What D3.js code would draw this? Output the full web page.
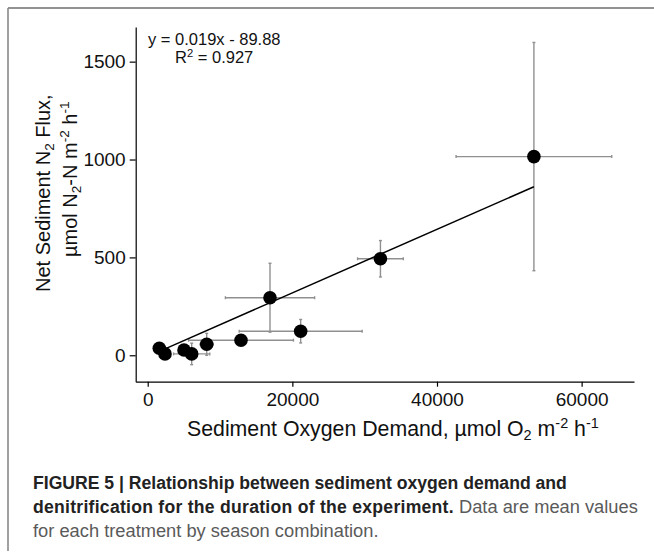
<!DOCTYPE html>
<html><head><meta charset="utf-8">
<script src="https://cdn.jsdelivr.net/npm/d3@7"></script>
<style>
html,body{margin:0;padding:0;background:#fff;}
svg{display:block;font-family:"Liberation Sans",Arial,sans-serif;}
</style></head>
<body>
<svg id="chart" width="654" height="554"></svg>
<script>
// ---- data ----
const sod      = [1604, 2392, 5020, 6080, 8157, 12900, 16910, 21150, 32180, 53400];
const n2Flux   = [36, 7, 27, 7, 56, 77, 294, 123, 493, 1015];
const sodErr   = [400, 400, 700, 2500, 900, 7250, 6170, 8500, 3160, 10760];
const fluxErr  = [15, 15, 20, 55, 56, 12, 176, 60, 93, 583];
const fitX     = [2400, 53400];
const fitY     = [33, 861];
const xTicks   = [0, 20000, 40000, 60000];
const yTicks   = [0, 500, 1000, 1500];
const eqLine1  = "y = 0.019x - 89.88";
const eqR2     = "0.927";

const svg = d3.select("#chart");
svg.append("rect").attr("width",654).attr("height",554).attr("fill","#fff");

// frame
svg.append("line").attr("x1",8).attr("x2",654).attr("y1",8).attr("y2",8)
  .attr("stroke","#6e6e6e").attr("stroke-width",1.6);
svg.append("line").attr("x1",8).attr("x2",8).attr("y1",8).attr("y2",551)
  .attr("stroke","#8a8a8a").attr("stroke-width",1.6);

const x = d3.scaleLinear().domain([-1660, 67240]).range([135.7, 634]);
const y = d3.scaleLinear().domain([-135, 1677]).range([381.7, 27]);

// axes
const xAxis = svg.append("g").attr("transform","translate(0,381.7)")
  .call(d3.axisBottom(x).tickValues(xTicks).tickFormat(d3.format("d")).tickSize(5).tickSizeOuter(0).tickPadding(6));
const yAxis = svg.append("g").attr("transform","translate(135.7,0)")
  .call(d3.axisLeft(y).tickValues(yTicks).tickFormat(d3.format("d")).tickSize(6).tickSizeOuter(0).tickPadding(4));
[xAxis,yAxis].forEach(a=>{
  a.selectAll("path,line").attr("stroke","#000").attr("stroke-width",1.2);
  a.selectAll("text").attr("font-size",19).attr("fill","#111")
   .attr("font-family","'Liberation Sans',Arial,sans-serif");
});

// error bars
const idx = d3.range(sod.length);
const eb = svg.append("g").attr("stroke","#909090").attr("stroke-width",1.4).attr("fill","none");
idx.forEach(i=>{
  const cx = x(sod[i]), cy = y(n2Flux[i]);
  const x0 = x(sod[i]-sodErr[i]), x1 = x(sod[i]+sodErr[i]);
  const y0 = y(n2Flux[i]-fluxErr[i]), y1 = y(n2Flux[i]+fluxErr[i]);
  eb.append("line").attr("x1",x0).attr("x2",x1).attr("y1",cy).attr("y2",cy);
  eb.append("line").attr("x1",cx).attr("x2",cx).attr("y1",y0).attr("y2",y1);
  eb.append("line").attr("x1",cx-1.5).attr("x2",cx+1.5).attr("y1",y0).attr("y2",y0);
  eb.append("line").attr("x1",cx-1.5).attr("x2",cx+1.5).attr("y1",y1).attr("y2",y1);
  eb.append("line").attr("x1",x0).attr("x2",x0).attr("y1",cy-1.5).attr("y2",cy+1.5);
  eb.append("line").attr("x1",x1).attr("x2",x1).attr("y1",cy-1.5).attr("y2",cy+1.5);
});

// fit line
svg.append("path")
  .attr("d", d3.line().x(d=>x(d[0])).y(d=>y(d[1]))(fitX.map((v,i)=>[v,fitY[i]])))
  .attr("stroke","#000").attr("stroke-width",1.5).attr("fill","none");

// points
svg.append("g").selectAll("circle").data(idx).join("circle")
  .attr("cx",i=>x(sod[i])).attr("cy",i=>y(n2Flux[i])).attr("r",6.8).attr("fill","#000");

// rich text helper (sub / superscripts via baseline-shift)
function rich(sel, parts, size){
  parts.forEach(p=>{
    const t = sel.append("tspan").text(p[0]);
    if(p[1]==="sub"){ t.attr("font-size",size*0.68).attr("baseline-shift",-size*0.2); }
    else if(p[1]==="sup"){ t.attr("font-size",size*0.68).attr("baseline-shift",size*0.38); }
  });
}

// equation
svg.append("text").attr("x",148).attr("y",45).attr("font-size",16.5).attr("fill","#111").text(eqLine1);
const r2 = svg.append("text").attr("x",175).attr("y",63).attr("font-size",16.5).attr("fill","#111");
rich(r2, [["R"],["2","sup"],[" = " + eqR2]], 16.5);

// y title
const yt1 = svg.append("text").attr("transform","translate(50,292) rotate(-90)").attr("font-size",20).attr("fill","#111");
rich(yt1, [["Net Sediment N"],["2","sub"],[" Flux,"]], 20);
const yt2 = svg.append("text").attr("transform","translate(77,257) rotate(-90)").attr("font-size",20).attr("fill","#111");
rich(yt2, [["\u00B5mol N"],["2","sub"],["-N m"],["-2","sup"],[" h"],["-1","sup"]], 20);

// x title
const xt = svg.append("text").attr("x",187).attr("y",436).attr("font-size",21.3).attr("fill","#111");
rich(xt, [["Sediment Oxygen Demand, \u00B5mol O"],["2","sub"],[" m"],["-2","sup"],[" h"],["-1","sup"]], 21.3);

// caption
const cap = svg.append("g");
cap.append("text").attr("x",33).attr("y",489).attr("font-size",17.6).attr("font-weight","bold").attr("fill","#222")
  .text("FIGURE 5 | Relationship between sediment oxygen demand and");
const c2 = cap.append("text").attr("x",33).attr("y",513);
c2.append("tspan").attr("font-size",17.6).attr("font-weight","bold").attr("fill","#222").attr("letter-spacing",0.26)
  .text("denitrification for the duration of the experiment.");
c2.append("tspan").attr("font-size",18.3).attr("fill","#5a5a5a").text(" Data are mean values");
cap.append("text").attr("x",33).attr("y",537).attr("font-size",18.3).attr("fill","#5a5a5a")
  .text("for each treatment by season combination.");
</script>
</body></html>
